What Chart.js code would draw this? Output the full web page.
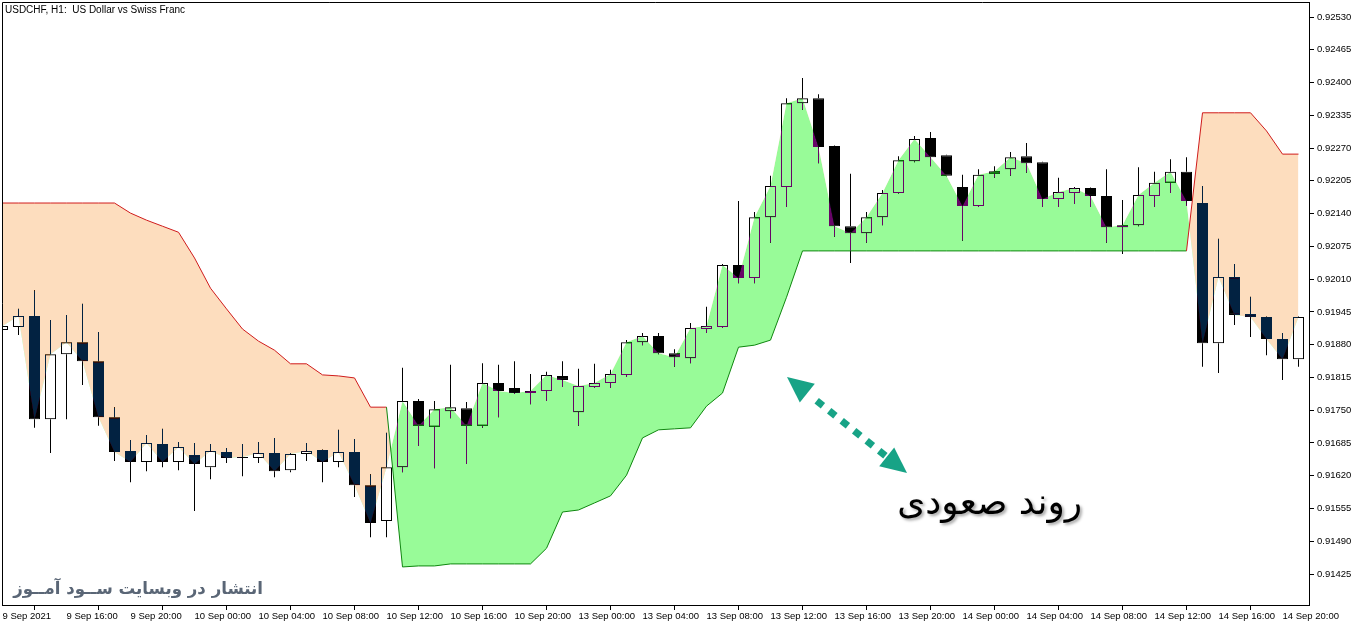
<!DOCTYPE html>
<html><head><meta charset="utf-8">
<script src="https://cdn.jsdelivr.net/npm/chart.js@4.4.1/dist/chart.umd.min.js"></script>
<style>html,body{margin:0;padding:0;background:#fff;overflow:hidden}canvas{display:block}</style>
</head><body>
<canvas id="c" width="1362" height="628"></canvas>
<script>
const chartTitle = 'USDCHF, H1:  US Dollar vs Swiss Franc';
const watermark = 'انتشار در وبسایت ســود آمــوز';
const trendLabel = 'روند صعودی';

const opens = [0.91909,0.91915,0.91937,0.91732,0.91861,0.91885,0.91847,0.91736,0.91669,0.91647,
0.91683,0.91647,0.91661,0.91637,0.91667,0.91655,0.91655,0.91665,0.91631,0.91663,
0.91671,0.91647,0.91667,0.91601,0.91530,0.91637,0.91768,0.91717,0.91748,0.91754,
0.91719,0.91804,0.91794,0.91784,0.91788,0.91818,0.91746,0.91796,0.91804,0.91820,
0.91885,0.91897,0.91863,0.91853,0.91911,0.91915,0.92038,0.92012,0.92133,0.92193,
0.92359,0.92369,0.92274,0.92115,0.92101,0.92133,0.92181,0.92244,0.92290,0.92256,
0.92193,0.92155,0.92219,0.92228,0.92254,0.92242,0.92169,0.92181,0.92191,0.92175,
0.92113,0.92117,0.92175,0.92201,0.92223,0.92161,0.91883,0.92014,0.91941,0.91935,
0.91891,0.91851];
const highs = [0.91919,0.91951,0.91988,0.91929,0.91939,0.91961,0.91905,0.91756,0.91691,0.91701,
0.91713,0.91687,0.91685,0.91683,0.91675,0.91683,0.91687,0.91695,0.91665,0.91685,
0.91672,0.91711,0.91693,0.91623,0.91705,0.91834,0.91772,0.91768,0.91840,0.91766,
0.91843,0.91840,0.91847,0.91822,0.91826,0.91847,0.91832,0.91842,0.91830,0.91889,
0.91903,0.91903,0.91871,0.91923,0.91955,0.92040,0.92165,0.92143,0.92215,0.92369,
0.92409,0.92377,0.92275,0.92219,0.92143,0.92187,0.92254,0.92294,0.92302,0.92257,
0.92217,0.92228,0.92234,0.92262,0.92280,0.92243,0.92211,0.92193,0.92192,0.92228,
0.92167,0.92232,0.92223,0.92248,0.92252,0.92195,0.92090,0.92040,0.91975,0.91936,
0.91903,0.91936];
const lows = [0.91907,0.91899,0.91715,0.91665,0.91732,0.91800,0.91719,0.91649,0.91607,0.91629,
0.91637,0.91631,0.91550,0.91613,0.91645,0.91619,0.91645,0.91617,0.91627,0.91649,
0.91607,0.91637,0.91578,0.91498,0.91498,0.91627,0.91679,0.91635,0.91734,0.91643,
0.91715,0.91736,0.91782,0.91762,0.91768,0.91796,0.91719,0.91794,0.91794,0.91816,
0.91879,0.91861,0.91836,0.91843,0.91903,0.91913,0.92002,0.92002,0.92082,0.92153,
0.92346,0.92240,0.92094,0.92042,0.92082,0.92117,0.92180,0.92242,0.92234,0.92214,
0.92086,0.92153,0.92211,0.92215,0.92221,0.92153,0.92153,0.92159,0.92153,0.92082,
0.92060,0.92115,0.92153,0.92181,0.92155,0.91836,0.91824,0.91919,0.91895,0.91859,
0.91810,0.91836];
const closes = [0.91917,0.91937,0.91732,0.91861,0.91885,0.91847,0.91736,0.91667,0.91647,0.91685,
0.91647,0.91677,0.91643,0.91669,0.91655,0.91657,0.91665,0.91629,0.91663,0.91669,
0.91647,0.91667,0.91601,0.91526,0.91637,0.91768,0.91719,0.91752,0.91756,0.91719,
0.91804,0.91788,0.91784,0.91788,0.91820,0.91810,0.91798,0.91804,0.91822,0.91885,
0.91897,0.91863,0.91855,0.91913,0.91917,0.92038,0.92012,0.92133,0.92195,0.92359,
0.92369,0.92272,0.92115,0.92101,0.92133,0.92181,0.92246,0.92288,0.92252,0.92215,
0.92155,0.92217,0.92224,0.92252,0.92240,0.92169,0.92183,0.92191,0.92175,0.92113,
0.92117,0.92177,0.92201,0.92223,0.92165,0.91883,0.92014,0.91939,0.91935,0.91891,
0.91851,0.91935];
const stopLine = [0.92161,0.92161,0.92161,0.92161,0.92161,0.92161,0.92161,0.92161,0.92141,0.92127,
0.92115,0.92103,0.92052,0.91992,0.91951,0.91911,0.91887,0.91869,0.91842,0.91842,
0.91820,0.91818,0.91814,0.91756,0.91756,0.91439,0.91441,0.91441,0.91445,0.91445,
0.91445,0.91445,0.91445,0.91445,0.91476,0.91548,0.91552,0.91566,0.91580,0.91621,
0.91695,0.91711,0.91713,0.91715,0.91758,0.91784,0.91875,0.91879,0.91889,0.91974,
0.92066,0.92066,0.92066,0.92066,0.92066,0.92066,0.92066,0.92066,0.92066,0.92066,
0.92066,0.92066,0.92066,0.92066,0.92066,0.92066,0.92066,0.92066,0.92066,0.92066,
0.92066,0.92066,0.92066,0.92066,0.92066,0.92340,0.92340,0.92340,0.92340,0.92304,
0.92258,0.92258];
const yTicks = [0.92530,0.92465,0.92400,0.92335,0.92270,0.92205,0.92140,0.92075,0.92010,0.91945,
0.91880,0.91815,0.91750,0.91685,0.91620,0.91555,0.91490,0.91425];
const xTickPos = [0,4,8,12,16,20,24,28,32,36,40,44,48,52,56,60,64,68,72,76,80];
const xTickLabels = ['9 Sep 2021','9 Sep 16:00','9 Sep 20:00','10 Sep 00:00','10 Sep 04:00','10 Sep 08:00',
'10 Sep 12:00','10 Sep 16:00','10 Sep 20:00','13 Sep 00:00','13 Sep 04:00','13 Sep 08:00','13 Sep 12:00',
'13 Sep 16:00','13 Sep 20:00','14 Sep 00:00','14 Sep 04:00','14 Sep 08:00','14 Sep 12:00','14 Sep 16:00','14 Sep 20:00'];

const idx = closes.map((_, i) => i);
const bodyData = idx.map(i => ({x: i, y: [opens[i], closes[i]]}));
const upWick = idx.map(i => ({x: i, y: [Math.max(opens[i], closes[i]), highs[i]]}));
const loWick = idx.map(i => ({x: i, y: [lows[i], Math.min(opens[i], closes[i])]}));
const closePts = idx.map(i => ({x: i, y: closes[i]}));
const stopPts = idx.map(i => ({x: i, y: stopLine[i]}));
const bodyBg = idx.map(i => closes[i] >= opens[i] ? 'rgba(0,0,0,0)' : '#000');

const FONT = 'Liberation Sans';
const BODY_IDX = 2, FILL_IDX = 4;

const look = {
  id: 'mtlook',
  beforeDraw(chart) {
    const ctx = chart.ctx; ctx.save(); ctx.fillStyle = '#fff';
    ctx.fillRect(0, 0, chart.width, chart.height); ctx.restore();
  },
  afterDatasetDraw(chart, args) {
    if (args.index === BODY_IDX) chart.ctx.globalCompositeOperation = 'difference';
    if (args.index === FILL_IDX) chart.ctx.globalCompositeOperation = 'source-over';
  },
  afterDraw(chart) {
    const ctx = chart.ctx, a = chart.chartArea;
    ctx.save();
    ctx.globalCompositeOperation = 'source-over';
    ctx.strokeStyle = '#000'; ctx.lineWidth = 1;
    ctx.beginPath();
    ctx.moveTo(a.left + 0.5, a.bottom); ctx.lineTo(a.left + 0.5, a.top + 0.5); ctx.lineTo(a.right, a.top + 0.5);
    ctx.stroke();
    // title
    ctx.fillStyle = '#000'; ctx.font = '10px "' + FONT + '"'; ctx.textAlign = 'left'; ctx.textBaseline = 'alphabetic';
    ctx.fillText(chartTitle, 5, 13);
    // watermark
    let fs = 19; ctx.font = 'bold ' + fs + 'px "DejaVu Sans"';
    let w = ctx.measureText(watermark).width; fs = fs * 250 / w;
    ctx.font = 'bold ' + fs.toFixed(1) + 'px "DejaVu Sans"';
    ctx.fillStyle = '#5a6676'; ctx.textAlign = 'right'; ctx.direction = 'rtl';
    ctx.fillText(watermark, 263, 594);
    // trend label
    fs = 34; ctx.font = fs + 'px "DejaVu Sans"';
    w = ctx.measureText(trendLabel).width; fs = fs * 185 / w;
    ctx.font = fs.toFixed(1) + 'px "DejaVu Sans"';
    ctx.fillStyle = '#000';
    ctx.shadowColor = 'rgba(0,0,0,0.35)'; ctx.shadowBlur = 3; ctx.shadowOffsetX = 2; ctx.shadowOffsetY = 2;
    ctx.fillText(trendLabel, 1082, 514);
    ctx.shadowColor = 'rgba(0,0,0,0)';
    ctx.direction = 'ltr';
    // dotted double arrow
    const x1 = 787, y1 = 377, x2 = 907, y2 = 473;
    const dx = x2 - x1, dy = y2 - y1, len = Math.hypot(dx, dy), ux = dx / len, uy = dy / len, px = -uy, py = ux;
    const hl = 26, hw = 12;
    ctx.fillStyle = '#17a386';
    const tri = (tx, ty, dir) => {
      const bx = tx + ux * hl * dir, by = ty + uy * hl * dir;
      ctx.beginPath(); ctx.moveTo(tx, ty);
      ctx.lineTo(bx + px * hw, by + py * hw); ctx.lineTo(bx - px * hw, by - py * hw); ctx.closePath(); ctx.fill();
    };
    tri(x1, y1, 1); tri(x2, y2, -1);
    for (let d = 42; d <= 123; d += 16) {
      const cx = x1 + ux * d, cy = y1 + uy * d;
      ctx.save(); ctx.translate(cx, cy); ctx.rotate(Math.atan2(dy, dx));
      ctx.fillRect(-4, -3.5, 8, 7); ctx.restore();
    }
    ctx.restore();
  }
};

new Chart(document.getElementById('c'), {
  type: 'bar',
  data: {
    datasets: [
      {type: 'bar', data: loWick, backgroundColor: '#000', borderWidth: 0, barThickness: 1, grouped: false, inflateAmount: 0, order: 6},
      {type: 'bar', data: upWick, backgroundColor: '#000', borderWidth: 0, barThickness: 1, grouped: false, inflateAmount: 0, order: 5},
      {type: 'bar', data: bodyData, backgroundColor: bodyBg, borderColor: '#000', borderWidth: 1, borderSkipped: false, barThickness: 11, grouped: false, inflateAmount: 0, order: 4},
      {type: 'line', data: closePts, borderWidth: 0, borderColor: 'rgba(0,0,0,0)', pointRadius: 0, fill: false, order: 3},
      {type: 'line', data: stopPts, borderWidth: 0, borderColor: 'rgba(0,0,0,0)', pointRadius: 0, tension: 0,
        fill: {target: 3, above: '#022241', below: '#670467'}, order: 2},
      {type: 'line', data: stopPts, borderWidth: 1, pointRadius: 0, tension: 0, fill: false, order: 1,
        segment: {borderColor: c => (stopLine[c.p1DataIndex] > closes[c.p1DataIndex] ? '#d01c1c' : '#0f870f')}}
    ]
  },
  options: {
    responsive: false, animation: false, devicePixelRatio: 1,
    layout: {padding: {left: 2, top: 2, right: 0, bottom: 0}},
    plugins: {legend: {display: false}, tooltip: {enabled: false}, filler: {drawTime: 'beforeDatasetDraw'}},
    scales: {
      x: {
        type: 'linear', min: -1 / 32, max: -1 / 32 + 1307 / 16, offset: false,
        grid: {display: true, drawOnChartArea: false, drawTicks: true, tickLength: 5, color: '#000'},
        border: {display: true, color: '#000', width: 1},
        ticks: {autoSkip: false, maxRotation: 0, minRotation: 0, align: 'start', padding: 1, color: '#000',
          font: {family: FONT, size: 9.5}, callback: (v, i) => xTickLabels[i]},
        afterBuildTicks: s => { s.ticks = xTickPos.map(v => ({value: v})); },
        afterFit: s => { s.height = 23; s.paddingLeft = 0; s.paddingRight = 0; }
      },
      y: {
        type: 'linear', position: 'right', min: 0.913635, max: 0.925598,
        grid: {display: true, drawOnChartArea: false, drawTicks: true, tickLength: 5, color: '#000'},
        border: {display: true, color: '#000', width: 1},
        ticks: {padding: 3, color: '#000', font: {family: FONT, size: 9.5}, callback: v => v.toFixed(5)},
        afterBuildTicks: s => { s.ticks = yTicks.map(v => ({value: v})); },
        afterFit: s => { s.width = 53; s.paddingTop = 0; s.paddingBottom = 0; }
      }
    }
  },
  plugins: [look]
});
</script>
</body></html>
